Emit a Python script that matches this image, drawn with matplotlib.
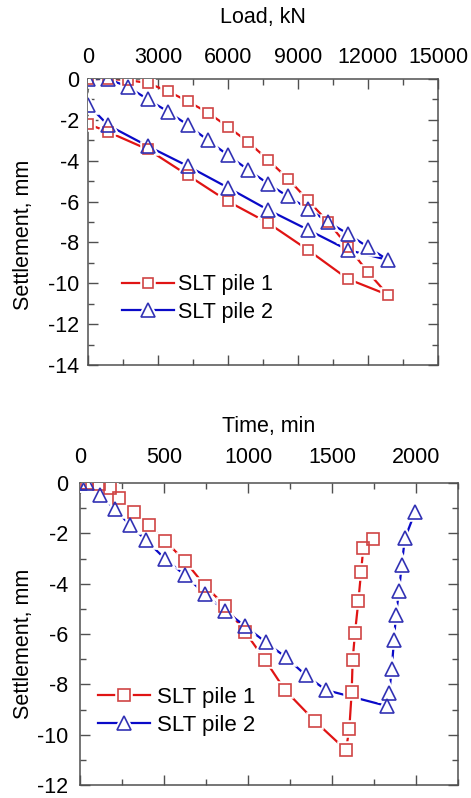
"""Static load tests (SLT) on two piles: load-settlement and time-settlement."""

import matplotlib
matplotlib.use("Agg")
import matplotlib.pyplot as plt
from matplotlib.ticker import MultipleLocator

plt.rcParams["font.family"] = ["Liberation Sans", "DejaVu Sans"]
plt.rcParams["axes.unicode_minus"] = False

# --- load vs settlement (loading branch then unloading branch) ---
load_p1 = [0, 860, 1710, 2570, 3430, 4290, 5140, 6000, 6860, 7710, 8570, 9430,
           10290, 11140, 12000, 12860, 11140, 9430, 7710, 6000, 4290, 2570, 860, 0]
settle_load_p1 = [0, 0, -0.05, -0.2, -0.6, -1.1, -1.65, -2.34, -3.08, -3.95, -4.88, -5.94,
                  -7.0, -8.2, -9.46, -10.57, -9.79, -8.37, -7.04, -5.99, -4.72, -3.45, -2.59, -2.2]
load_p2 = [0, 860, 1710, 2570, 3430, 4290, 5140, 6000, 6860, 7710, 8570, 9430,
           10290, 11140, 12000, 12860, 11140, 9430, 7710, 6000, 4290, 2570, 860, 0]
settle_load_p2 = [0, 0, -0.38, -1.0, -1.6, -2.26, -3.0, -3.73, -4.44, -5.12, -5.75, -6.35,
                  -7.0, -7.58, -8.23, -8.86, -8.37, -7.38, -6.4, -5.32, -4.27, -3.29, -2.26, -1.25]

# --- time vs settlement ---
time_p1 = [0, 43, 113, 179, 234, 323, 413, 506, 625, 744, 863, 982, 1101, 1220, 1399, 1583,
           1603, 1617, 1623, 1637, 1657, 1673, 1686, 1746]
settle_time_p1 = [0, 0, -0.05, -0.2, -0.6, -1.15, -1.68, -2.29, -3.1, -4.08, -4.87, -5.91,
                  -7.02, -8.22, -9.46, -10.6, -9.76, -8.31, -7.02, -5.94, -4.68, -3.53, -2.59, -2.23]
time_p2 = [0, 40, 119, 208, 298, 393, 506, 625, 744, 863, 982, 1107, 1226, 1345, 1464, 1825,
           1841, 1855, 1869, 1881, 1899, 1915, 1934, 1994]
settle_time_p2 = [0, 0, -0.47, -1.03, -1.68, -2.27, -3.01, -3.66, -4.42, -5.07, -5.68, -6.33,
                  -6.92, -7.64, -8.22, -8.85, -8.33, -7.4, -6.24, -5.23, -4.29, -3.24, -2.2, -1.16]

labels = ["SLT pile 1", "SLT pile 2"]

RED_LINE, RED_MK = "#e01414", "#cf4444"
BLUE_LINE, BLUE_MK = "#0a0ac8", "#3232b4"
SPINE = "#505050"


def series(ax, x, y, lc, mc, marker, ms):
    """Line broken around open markers (white halo under each marker)."""
    ln, = ax.plot(x, y, color=lc, lw=1.6, zorder=2)
    halo, = ax.plot(x, y, ls="none", marker=marker, ms=ms, mfc="white",
                    mec="white", mew=4, zorder=3)
    mk, = ax.plot(x, y, ls="none", marker=marker, ms=ms, mfc="none",
                  mec=mc, mew=1.2, zorder=4)
    return (ln, halo, mk)


def style(ax, xmaj, xmin, ymaj, ymin, xpad, ypad):
    ax.xaxis.tick_top()
    ax.xaxis.set_label_position("top")
    ax.xaxis.set_major_locator(MultipleLocator(xmaj))
    ax.xaxis.set_minor_locator(MultipleLocator(xmin))
    ax.yaxis.set_major_locator(MultipleLocator(ymaj))
    ax.yaxis.set_minor_locator(MultipleLocator(ymin))
    ax.tick_params(which="both", direction="in", top=True, bottom=True, left=True,
                   right=True, labeltop=True, labelbottom=False, color=SPINE, width=1)
    ax.tick_params(which="major", length=7, labelsize=15.5)
    ax.tick_params(which="minor", length=4)
    ax.tick_params(axis="x", which="major", pad=xpad)
    ax.tick_params(axis="y", which="major", pad=ypad)
    for s in ax.spines.values():
        s.set_color(SPINE)
        s.set_linewidth(1.1)


fig = plt.figure(figsize=(4.71, 7.98), dpi=100)

# (top) load-settlement
ax1 = fig.add_axes([0.1868, 0.5426, 0.7431, 0.3584])
h1 = series(ax1, load_p1, settle_load_p1, RED_LINE, RED_MK, "s", 7.5)
h2 = series(ax1, load_p2, settle_load_p2, BLUE_LINE, BLUE_MK, "^", 9.5)
ax1.set_xlim(0, 15000)
ax1.set_ylim(-14, 0)
style(ax1, 3000, 1500, 2, 1, 8, 6.5)
ax1.set_xlabel("Load, kN", fontsize=15.5)
ax1.set_ylabel("Settlement, mm", fontsize=15.5)
ax1.xaxis.set_label_coords(0.5, 1.196)
ax1.yaxis.set_label_coords(-0.154, 0.455)
ax1.legend([h1, h2], labels, loc="upper left", bbox_to_anchor=(0.097, 0.318),
           frameon=False, fontsize=15.5, borderpad=0, borderaxespad=0,
           handlelength=2.4, handletextpad=0.2, labelspacing=0.32)

# (bottom) time-settlement
ax2 = fig.add_axes([0.1699, 0.0160, 0.8025, 0.3787])
h1 = series(ax2, time_p1, settle_time_p1, RED_LINE, RED_MK, "s", 8.3)
h2 = series(ax2, time_p2, settle_time_p2, BLUE_LINE, BLUE_MK, "^", 10)
ax2.set_xlim(0, 2250)
ax2.set_ylim(-12, 0)
style(ax2, 500, 250, 2, 1, 11, 8.5)
ax2.set_xlabel("Time, min", fontsize=15.5)
ax2.set_ylabel("Settlement, mm", fontsize=15.5)
ax2.xaxis.set_label_coords(0.5, 1.168)
ax2.yaxis.set_label_coords(-0.122, 0.469)
ax2.legend([h1, h2], labels, loc="upper left", bbox_to_anchor=(0.048, 0.325),
           frameon=False, fontsize=16, borderpad=0, borderaxespad=0,
           handlelength=2.35, handletextpad=0.3, labelspacing=0.3)

fig.savefig("out.png", dpi=100)
